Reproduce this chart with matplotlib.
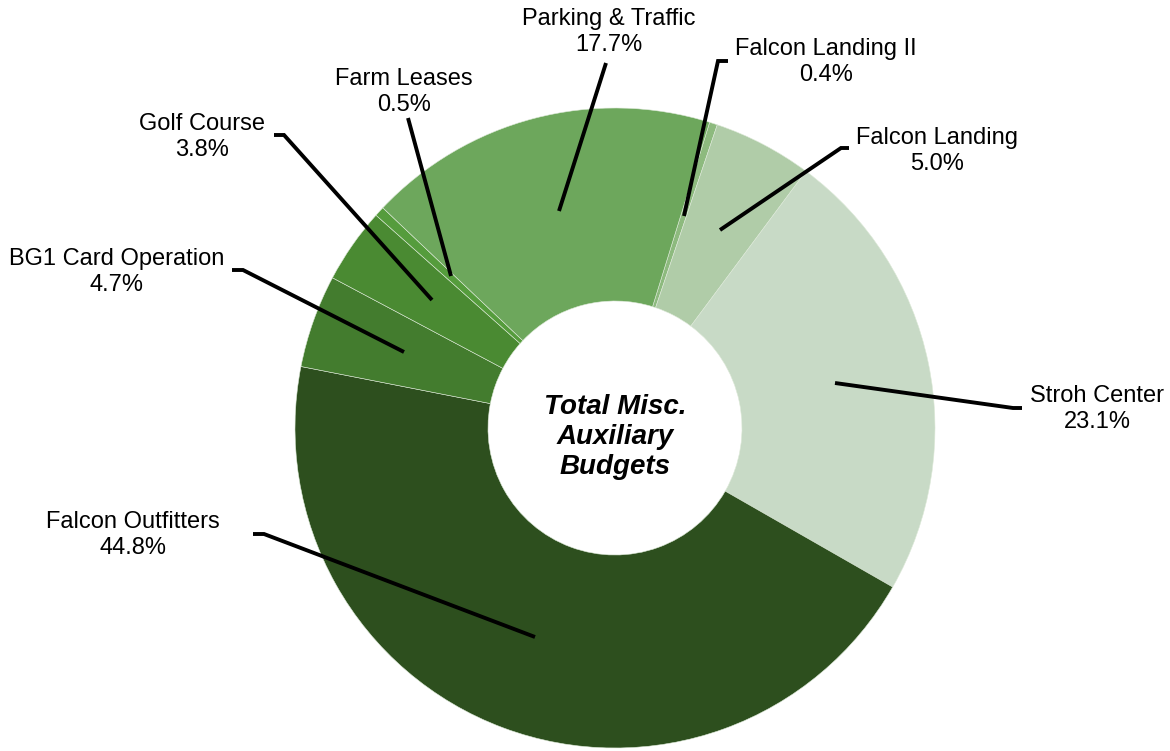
import matplotlib.pyplot as plt

# slices in drawing order (clockwise, starting just right of 12 o'clock)
labels = ['Falcon Landing II', 'Falcon Landing', 'Stroh Center', 'Falcon Outfitters',
          'BG1 Card Operation', 'Golf Course', 'Farm Leases', 'Parking & Traffic']
shares = [0.4, 5.0, 23.1, 44.8, 4.7, 3.8, 0.5, 17.7]
colors = ['#8dba7e', '#b0cca8', '#c8dac6', '#2d4f1e',
          '#437c2e', '#4a8a32', '#559c3c', '#6da75c']

W, H = 1170, 751
CX, CY = 615, 428
R_OUT, R_IN = 320, 127

# label text centre, leader elbow, leader end inside the slice (pixel coords)
label_pos = {
    'Falcon Landing II': ((826, 62), (718, 61), (728, 61), (684, 216)),
    'Falcon Landing': ((937, 151), (841, 148), (849, 148), (720, 230)),
    'Stroh Center': ((1097, 409), (1013, 408), (1022, 408), (835, 383)),
    'Falcon Outfitters': ((133, 535), (264, 534), (253, 534), (535, 637)),
    'BG1 Card Operation': ((117, 272), (243, 270), (232, 270), (404, 352)),
    'Golf Course': ((202, 137), (284, 135), (274, 135), (432, 300)),
    'Farm Leases': ((404, 92), (408, 118), (408, 118), (451, 276)),
    'Parking & Traffic': ((609, 32), (606, 63), (606, 63), (559, 211)),
}

plt.rcParams['font.family'] = ['Liberation Sans', 'DejaVu Sans']

fig = plt.figure(figsize=(W / 100, H / 100), dpi=100)
ax = fig.add_axes([0, 0, 1, 1])

ax.pie(shares, colors=colors, startangle=72.8, counterclock=False,
       center=(CX, H - CY), radius=R_OUT,
       wedgeprops=dict(width=R_OUT - R_IN, edgecolor='#dde9d8', linewidth=0.4))

# pie() resets the limits, so set the pixel frame afterwards
ax.set_xlim(0, W)
ax.set_ylim(0, H)
ax.set_aspect('equal')
ax.axis('off')

def fy(y):
    return H - y

for name, share in zip(labels, shares):
    (tx, ty), (ex, ey), (hx, hy), (px, py) = label_pos[name]
    ax.plot([px, ex, hx], [fy(py), fy(ey), fy(hy)], color='black', lw=2.8,
            solid_capstyle='butt', solid_joinstyle='miter', zorder=3)
    ax.text(tx, fy(ty), f'{name}\n{share:.1f}%', ha='center', va='center',
            fontsize=17, linespacing=1.2, color='black')

ax.text(CX, fy(437), 'Total Misc.\nAuxiliary\nBudgets', ha='center', va='center',
        fontsize=20, fontweight='bold', fontstyle='italic', linespacing=1.2)

fig.savefig('out.png', dpi=100)
